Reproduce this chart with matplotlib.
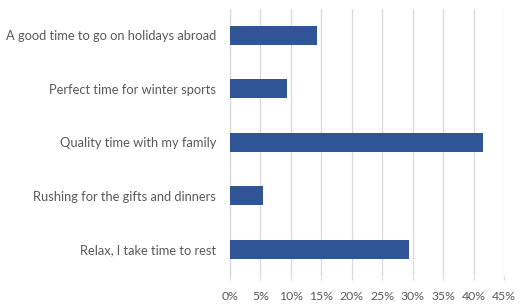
import matplotlib.pyplot as plt
from matplotlib.ticker import FuncFormatter

# data (top to bottom)
categories = ["A good time to go on holidays abroad",
              "Perfect time for winter sports",
              "Quality time with my family",
              "Rushing for the gifts and dinners",
              "Relax, I take time to rest"]
values = [14.3, 9.4, 41.5, 5.4, 29.4]
ticks = [0, 5, 10, 15, 20, 25, 30, 35, 40, 45]

plt.rcParams['font.family'] = ['Lato', 'DejaVu Sans']

fig = plt.figure(figsize=(5.26, 3.07), dpi=100)
ax = fig.add_axes([0.4373, 0.101, 0.5214, 0.8705])

pos = list(range(len(categories)))
ax.barh(pos, values, height=0.355, color="#2f5597", zorder=3)

ax.set_ylim(len(categories) - 0.5, -0.5)
ax.set_xlim(0, 45)
ax.set_xticks(ticks)
ax.xaxis.set_major_formatter(FuncFormatter(lambda v, p: "%d%%" % v))
ax.set_yticks(pos)
ax.set_yticklabels(categories)

ax.grid(axis="x", color="#d9d9d9", linewidth=0.9, zorder=0)
for s in ["top", "right", "bottom"]:
    ax.spines[s].set_visible(False)
ax.spines["left"].set_color("#d9d9d9")
ax.spines["left"].set_linewidth(0.9)

ax.tick_params(axis="x", length=3, color="#d9d9d9", pad=8, labelsize=8.8, labelcolor="#595959")
ax.tick_params(axis="y", length=0, pad=10, labelsize=9.3, labelcolor="#595959")

fig.savefig("out.png", dpi=100, facecolor="white")
